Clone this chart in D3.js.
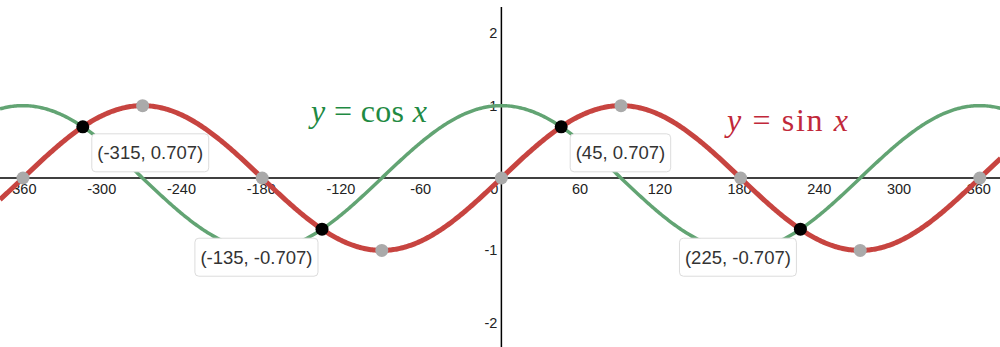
<!DOCTYPE html>
<html><head><meta charset="utf-8">
<script src="https://cdn.jsdelivr.net/npm/d3@7"></script>
<style>html,body{margin:0;padding:0;background:#fff;}svg{display:block;}</style>
</head><body>
<svg id="chart" width="1000" height="347"></svg>
<script>
// ---- data ----
const xTicks = [-360, -300, -240, -180, -120, -60, 60, 120, 180, 240, 300, 360];
const yTicks = [-2, -1, 1, 2];
const grayPointsX = [-360, -270, -180, -90, 0, 90, 180, 270, 360];
const grayPointsY = [0, 1, 0, -1, 0, 1, 0, -1, 0];
const blackPointsX = [-315, 45, -135, 225];
const blackPointsY = [0.707, 0.707, -0.707, -0.707];
const pointLabels = ["(-315, 0.707)", "(45, 0.707)", "(-135, -0.707)", "(225, -0.707)"];
const labelSide = ["right", "right", "left", "left"];
const xDomain = [-377.3, 375.2];
const yDomain = [2.459, -2.334];

const W = 1000, H = 347;
const svg = d3.select("#chart");
const x = d3.scaleLinear().domain(xDomain).range([0, W]);
const y = d3.scaleLinear().domain(yDomain).range([0, H]);

// axes
svg.append("line").attr("x1", 0).attr("x2", W).attr("y1", y(0)).attr("y2", y(0))
  .attr("stroke", "#000").attr("stroke-width", 1.5);
svg.append("line").attr("x1", x(0)).attr("x2", x(0)).attr("y1", 7).attr("y2", H)
  .attr("stroke", "#000").attr("stroke-width", 1.5);

const tickFont = "Arial, 'Liberation Sans', sans-serif";
svg.append("g").selectAll("text").data(xTicks).join("text")
  .attr("x", d => x(d) - 1).attr("y", y(0) + 16)
  .attr("text-anchor", "middle").attr("font-family", tickFont).attr("font-size", 14.5)
  .attr("fill", "#222").text(d => d);
svg.append("text").attr("x", x(0) - 3).attr("y", y(0) + 16)
  .attr("text-anchor", "end").attr("font-family", tickFont).attr("font-size", 14.5)
  .attr("fill", "#222").text("0");
svg.append("g").selectAll("text").data(yTicks).join("text")
  .attr("x", x(0) - 4).attr("y", d => y(d) + 5)
  .attr("text-anchor", "end").attr("font-family", tickFont).attr("font-size", 14.5)
  .attr("fill", "#222").text(d => d);

// curves (function graphs y = cos x, y = sin x)
const xs = d3.range(xDomain[0], xDomain[1] + 1, 1);
const rad = d => d * Math.PI / 180;
const line = d3.line().x(d => x(d[0])).y(d => y(d[1]));
svg.append("path").datum(xs.map(v => [v, Math.cos(rad(v))]))
  .attr("d", line).attr("fill", "none").attr("stroke", "#62a473").attr("stroke-width", 3.5);
svg.append("path").datum(xs.map(v => [v, Math.sin(rad(v))]))
  .attr("d", line).attr("fill", "none").attr("stroke", "#c74440").attr("stroke-width", 5);

// points
svg.append("g").selectAll("circle").data(grayPointsX).join("circle")
  .attr("cx", d => x(d)).attr("cy", (d, i) => y(grayPointsY[i])).attr("r", 6.5)
  .attr("fill", "#aaaaaa");
svg.append("g").selectAll("circle").data(blackPointsX).join("circle")
  .attr("cx", d => x(d)).attr("cy", (d, i) => y(blackPointsY[i])).attr("r", 6.5)
  .attr("fill", "#000");

// point labels
const labelFont = "Arial, 'Liberation Sans', sans-serif";
blackPointsX.forEach((px, i) => {
  const cx = x(px), cy = y(blackPointsY[i]);
  const g = svg.append("g");
  const t = g.append("text").attr("font-family", labelFont).attr("font-size", 18.5)
    .attr("fill", "#333").text(pointLabels[i]);
  const tw = t.node().getComputedTextLength();
  const bw = tw + 11, bh = 38;
  let bx, by;
  if (labelSide[i] === "right") { bx = cx + 9; by = cy + 7; }
  else { bx = cx - 4 - bw; by = cy + 9; }
  g.insert("rect", "text").attr("x", bx).attr("y", by).attr("width", bw).attr("height", bh)
    .attr("rx", 4).attr("fill", "#fff").attr("stroke", "#dcdcdc").attr("stroke-width", 1);
  t.attr("x", bx + bw / 2).attr("y", by + bh / 2 + 6.5).attr("text-anchor", "middle");
});

// equation labels
function eq(xp, yp, fn, color, len) {
  const t = svg.append("text").attr("x", xp).attr("y", yp)
    .attr("font-family", "'Liberation Serif', 'Times New Roman', serif").attr("font-size", 32)
    .attr("fill", color).attr("textLength", len).attr("lengthAdjust", "spacing");
  t.append("tspan").attr("font-style", "italic").text("y");
  t.append("tspan").text(" = " + fn + " ");
  t.append("tspan").attr("font-style", "italic").text("x");
}
eq(311, 122, "cos", "#1f8a43", 116);
eq(727, 131, "sin", "#c1283a", 121);
</script>
</body></html>
